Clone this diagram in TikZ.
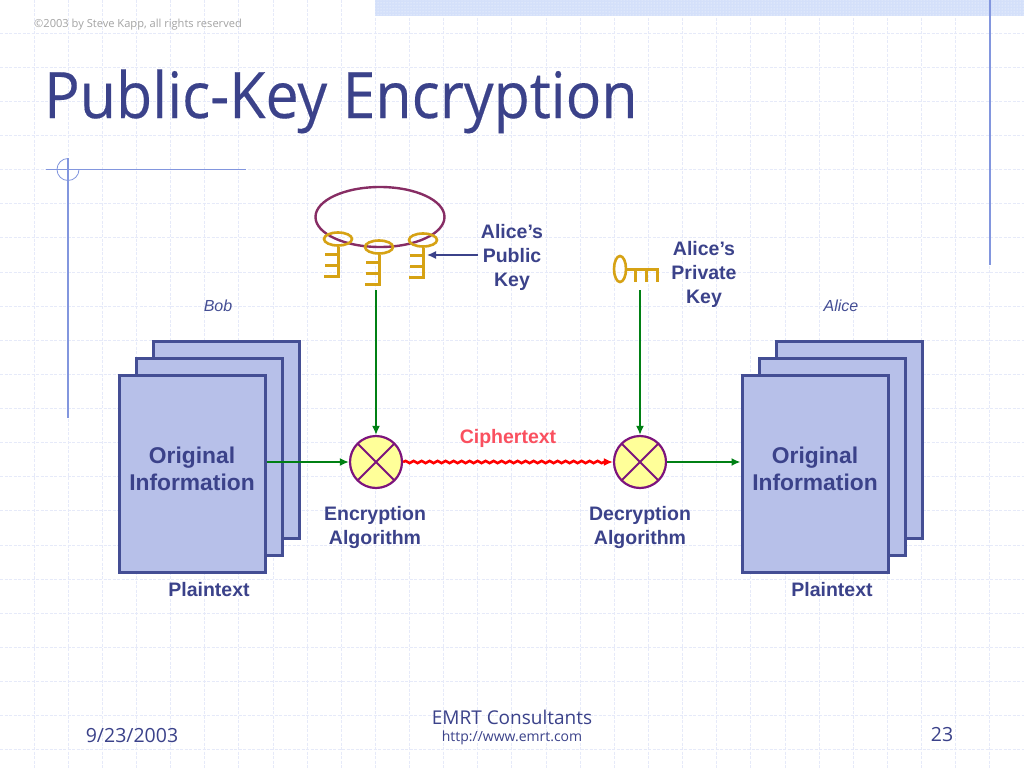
\documentclass[tikz,border=0pt]{standalone}
\usepackage{fontspec}
\setmainfont{Open Sans}
\newfontfamily\labelfont{Liberation Sans}
\newfontfamily\titlefont[FakeStretch=0.923,FakeBold=0.25]{Open Sans}
\usetikzlibrary{positioning, arrows.meta, backgrounds, shapes, patterns, decorations.pathmorphing}
\definecolor{inkblue}{RGB}{59,66,138}
\definecolor{edgeblue}{RGB}{68,78,148}
\definecolor{gridblue}{RGB}{230,234,249}
\definecolor{bandblue}{RGB}{212,224,250}
\definecolor{ruleblue}{RGB}{130,150,222}
\definecolor{pagefill}{RGB}{183,192,233}
\definecolor{keygold}{RGB}{214,162,20}
\definecolor{ringred}{RGB}{135,45,100}
\definecolor{mixpurple}{RGB}{125,20,125}
\definecolor{mixfill}{RGB}{255,255,153}
\definecolor{flowgreen}{RGB}{0,128,20}
\definecolor{ciphered}{RGB}{250,80,95}

\begin{document}
\begin{tikzpicture}[x=1pt, y=-1pt, >={Latex[length=9pt,width=8pt]}]
	\tikzstyle{gridline} = [ gridblue, dash pattern=on 3pt off 1.5pt, line width=1pt ];
	\tikzstyle{rule} = [ ruleblue, line width=0.8pt ];
	\tikzstyle{page} = [ draw=edgeblue, fill=pagefill, line width=3pt, minimum width=146pt, minimum height=197pt, inner sep=0pt ];
	\tikzstyle{mixer} = [ draw=mixpurple, fill=mixfill, circle, line width=2.2pt, minimum size=52pt, inner sep=0pt,
		path picture={\draw[mixpurple, line width=2pt]
			(path picture bounding box.north west) -- (path picture bounding box.south east)
			(path picture bounding box.north east) -- (path picture bounding box.south west);} ];
	\tikzstyle{bow} = [ draw=keygold, ellipse, line width=2.6pt, minimum width=28pt, minimum height=13pt, inner sep=0pt ];
	\tikzstyle{info} = [ text=inkblue, align=center, inner sep=0pt, font={\labelfont\bfseries\fontsize{19.5}{24}\selectfont} ];
	\tikzstyle{who} = [ text=edgeblue, inner sep=0pt, font={\labelfont\itshape\fontsize{16}{19}\selectfont} ];
	\tikzstyle{foot} = [ text=inkblue, align=center, inner sep=0pt, font={\fontsize{19.5}{24}\selectfont} ];
	\tikzstyle{flow} = [ ->, draw=flowgreen, fill=flowgreen, line width=2.3pt ];
	\tikzstyle{keyline} = [ draw=keygold, line width=3pt ];

	\useasboundingbox (0,0) rectangle (1024,768);
	\fill[white] (0,0) rectangle (1024,768);

	% paper grid
	\foreach \xi in {1,...,29}
		\draw[gridline] ({\xi*34.13},0) -- ({\xi*34.13},768);
	\foreach \yi in {1,...,22}
		\draw[gridline] (0,{\yi*34.13-1}) -- (1024,{\yi*34.13-1});

	% slide furniture
	\fill[bandblue] (375,0) rectangle (1024,16);
	\fill[pattern=dots, pattern color=white] (375,0) rectangle (1024,16);
	\draw[ruleblue, line width=1.6pt] (990,0) -- (990,265);
	\draw[rule] (46,169.5) -- (246,169.5);
	\draw[rule, line width=1.2pt] (68,158) -- (68,418);
	\draw[rule] (68,158.5) arc[start angle=90, end angle=360, radius=11pt];

	\node[text=black!36, anchor=west, inner sep=0pt, font={\fontsize{11.1}{14}\selectfont}] (copy) at (34,25) {©2003 by Steve Kapp, all rights reserved};
	\node[text=inkblue, anchor=base west, inner sep=0pt, font={\titlefont\fontsize{64}{70}\selectfont}] (title) at (44,118) {Public-Key Encryption};

	% document stacks
	\foreach \name/\dx in {bob/0,alice/623} {
		\node[page] (\name back) at (226+\dx,439.5) {};
		\node[page] (\name mid) at (209+\dx,456.5) {};
		\node[page] (\name front) at (192+\dx,473.5) {};
		\node[text=inkblue, align=center, inner sep=0pt, font={\labelfont\bfseries\fontsize{22.8}{27}\selectfont}] (\name text) at (192+\dx,468.5) {Original\\Information};
		\node[info] (\name plain) at (209+\dx,590) {Plaintext};
	}
	\node[who] (bob) at (218,306) {Bob};
	\node[who] (alice) at (841,306) {Alice};

	% public key ring
	\node[draw=ringred, ellipse, line width=2.4pt, minimum width=129pt, minimum height=60pt, inner sep=0pt] (ring) at (380,217) {};
	\foreach \name/\kx/\ky in {a/338/239, b/379/247, c/423/240} {
		\node[bow] (bow\name) at (\kx,\ky) {};
		\coordinate (foot\name) at (\kx,\ky+37);
		\draw[keyline] (bow\name.south -| foot\name) -- (foot\name) -- ++(-14,0);
		\draw[keyline] (\kx,\ky+15) -- ++(-13,0) (\kx,\ky+26) -- ++(-13,0);
	}
	\node[info] (pubkey) at (512,257) {Alice’s\\Public\\Key};
	\coordinate (pubtip) at (427,255);
	\coordinate (pubtail) at (478,255);
	\draw[->, draw=inkblue, fill=inkblue, line width=1.4pt] (pubtail) -- (pubtip);

	% private key
	\node[bow, minimum width=12pt, minimum height=26pt] (privbow) at (620,269) {};
	\coordinate (privend) at (657,269);
	\draw[keyline] (privbow.east) -- (privend) -- ++(0,13);
	\draw[keyline] (635,269) -- ++(0,13) (646,269) -- ++(0,13);
	\node[info] (privkey) at (704,274) {Alice’s\\Private\\Key};

	% algorithms
	\node[mixer] (enc) at (376,462) {};
	\node[mixer] (dec) at (640,462) {};
	\node[info] (enclabel) at (375,527) {Encryption\\Algorithm};
	\node[info] (declabel) at (640,527) {Decryption\\Algorithm};
	\node[info, text=ciphered] (cipher) at (508,438) {Ciphertext};

	\coordinate (pubdrop) at (376,290);
	\coordinate (privdrop) at (640,290);
	\draw[flow] (pubdrop) -- (enc);
	\draw[flow] (privdrop) -- (dec);
	\draw[flow] (bobfront.east |- enc) -- (enc);
	\draw[flow] (dec) -- (alicefront.west |- dec);
	\draw[->, draw=red, fill=red, line width=2.6pt, decorate, decoration={snake, amplitude=1.1pt, segment length=8pt, post length=7pt}] (enc) -- (dec);

	% footer
	\node[foot] (date) at (132,736) {9/23/2003};
	\node[foot, font={\fontsize{19}{24}\selectfont}] (firm) at (512,717) {EMRT Consultants};
	\node[foot, font={\fontsize{14}{17}\selectfont}] (url) at (512,738) {http://www.emrt.com};
	\node[foot] (num) at (942,735) {23};
\end{tikzpicture}
\end{document}
